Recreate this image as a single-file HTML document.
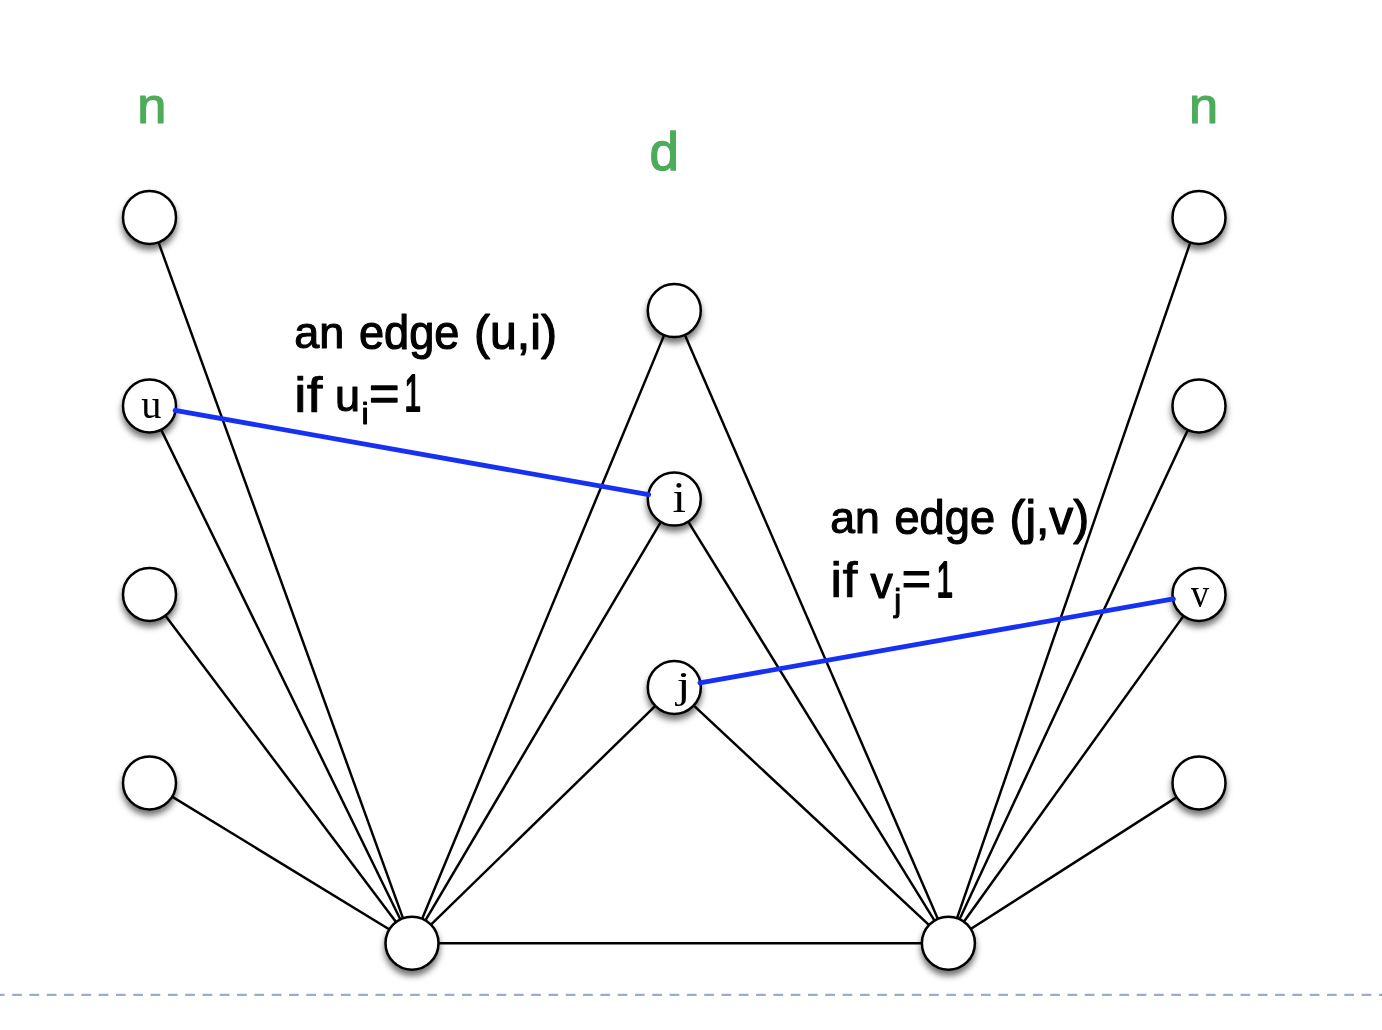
<!DOCTYPE html>
<html><head><meta charset="utf-8"><title>graph</title>
<style>
html,body{margin:0;padding:0;background:#fff;}
body{width:1382px;height:1030px;overflow:hidden;}
svg{display:block;}
.g{font-family:"Liberation Sans",sans-serif;font-size:54px;fill:#4dac5a;stroke:#4dac5a;stroke-width:1.3px;stroke-linejoin:round;}
.t{font-family:"Liberation Sans",sans-serif;font-size:48px;fill:#000;stroke:#000;stroke-width:1.2px;stroke-linejoin:round;}
.s{font-family:"Liberation Sans",sans-serif;font-size:30px;fill:#000;stroke:#000;stroke-width:1px;stroke-linejoin:round;}
.n{font-family:"Liberation Serif",serif;font-size:42px;fill:#000;}
</style></head><body>
<svg width="1382" height="1030" viewBox="0 0 1382 1030">
<defs>
<filter id="sh" filterUnits="userSpaceOnUse" x="0" y="0" width="1382" height="1030">
<feGaussianBlur in="SourceAlpha" stdDeviation="3.4"/>
<feOffset dx="0" dy="5" result="b"/>
<feFlood flood-color="#000" flood-opacity="0.55"/>
<feComposite in2="b" operator="in"/>
</filter>
</defs>
<rect width="1382" height="1030" fill="#fff"/>
<line x1="-5.1" y1="994.9" x2="1382" y2="994.9" stroke="#9aadca" stroke-width="2.2" stroke-dasharray="9.7 7.6"/>

<g stroke="#000" stroke-width="2.45" fill="none">
<line x1="149.5" y1="217.4" x2="412.0" y2="943.2"/>
<line x1="149.5" y1="405.9" x2="412.0" y2="943.2"/>
<line x1="149.5" y1="594.4" x2="412.0" y2="943.2"/>
<line x1="149.5" y1="782.9" x2="412.0" y2="943.2"/>
<line x1="674.3" y1="310.6" x2="412.0" y2="943.2"/>
<line x1="674.3" y1="499.1" x2="412.0" y2="943.2"/>
<line x1="674.3" y1="687.4" x2="412.0" y2="943.2"/>
<line x1="674.3" y1="310.6" x2="948.4" y2="943.2"/>
<line x1="674.3" y1="499.1" x2="948.4" y2="943.2"/>
<line x1="674.3" y1="687.4" x2="948.4" y2="943.2"/>
<line x1="1199.0" y1="217.4" x2="948.4" y2="943.2"/>
<line x1="1199.0" y1="405.9" x2="948.4" y2="943.2"/>
<line x1="1199.0" y1="594.4" x2="948.4" y2="943.2"/>
<line x1="1199.0" y1="782.9" x2="948.4" y2="943.2"/>
<line x1="412.0" y1="943.2" x2="948.4" y2="943.2"/>
</g>
<g fill="#000" filter="url(#sh)">
<circle cx="149.5" cy="217.4" r="27.8"/>
<circle cx="149.5" cy="405.9" r="27.8"/>
<circle cx="149.5" cy="594.4" r="27.8"/>
<circle cx="149.5" cy="782.9" r="27.8"/>
<circle cx="674.3" cy="310.6" r="27.8"/>
<circle cx="674.3" cy="499.1" r="27.8"/>
<circle cx="674.3" cy="687.4" r="27.8"/>
<circle cx="1199.0" cy="217.4" r="27.8"/>
<circle cx="1199.0" cy="405.9" r="27.8"/>
<circle cx="1199.0" cy="594.4" r="27.8"/>
<circle cx="1199.0" cy="782.9" r="27.8"/>
<circle cx="412.0" cy="943.2" r="27.8"/>
<circle cx="948.4" cy="943.2" r="27.8"/>
</g>
<g fill="#fff" stroke="#000" stroke-width="2.5">
<circle cx="149.5" cy="217.4" r="26.5"/>
<circle cx="149.5" cy="405.9" r="26.5"/>
<circle cx="149.5" cy="594.4" r="26.5"/>
<circle cx="149.5" cy="782.9" r="26.5"/>
<circle cx="674.3" cy="310.6" r="26.5"/>
<circle cx="674.3" cy="499.1" r="26.5"/>
<circle cx="674.3" cy="687.4" r="26.5"/>
<circle cx="1199.0" cy="217.4" r="26.5"/>
<circle cx="1199.0" cy="405.9" r="26.5"/>
<circle cx="1199.0" cy="594.4" r="26.5"/>
<circle cx="1199.0" cy="782.9" r="26.5"/>
<circle cx="412.0" cy="943.2" r="26.5"/>
<circle cx="948.4" cy="943.2" r="26.5"/>
</g>
<g stroke="#1631f4" stroke-width="4.8" stroke-linecap="round">
<line x1="175.1" y1="410.4" x2="648.7" y2="494.6"/>
<line x1="699.9" y1="682.9" x2="1173.4" y2="598.9"/>
</g>
<g opacity="0.999">
<text class="g" transform="translate(137.19,122.63) scale(0.9699,0.9119)">n</text>
<text class="g" transform="translate(649.41,169.87) scale(0.9795,1.0031)">d</text>
<text class="g" transform="translate(1189.09,122.63) scale(0.9699,0.9119)">n</text>
<text class="n" transform="translate(141.22,417.93) scale(0.9620,0.9936)">u</text>
<text class="n" transform="translate(672.54,511.60) scale(1.1500,1.0306)">i</text>
<text class="n" transform="translate(676.50,697.76) scale(1.2000,0.9283)">j</text>
<text class="n" transform="translate(1190.80,607.33) scale(0.8762,0.9783)">v</text>
<text class="t" transform="translate(294.29,348.19) scale(0.9377,0.9096)">an</text>
<text class="t" transform="translate(358.99,348.50) scale(0.9407,1.0000)">edge</text>
<text class="t" transform="translate(474.02,348.50) scale(1.0042,1.0000)">(u,i)</text>
<text class="t" style="stroke-width:0.7px" transform="translate(294.09,411.61) scale(1.1860,1.0423)">if</text>
<text class="t" transform="translate(335.05,411.08) scale(0.9387,0.9185)">u</text>
<text class="s" transform="translate(361.39,424.01) scale(1.0759,0.9802)">i</text>
<text class="t" transform="translate(368.89,409.69) scale(1.0898,1.0526)">=</text>
<text class="t" style="stroke-width:1.8px" transform="translate(404.49,411.07) scale(0.6222,1.0609)">1</text>
<text class="t" transform="translate(830.31,533.19) scale(0.9276,0.9096)">an</text>
<text class="t" transform="translate(894.49,533.50) scale(0.9417,1.0000)">edge</text>
<text class="t" transform="translate(1009.54,533.50) scale(0.9953,1.0000)">(j,v)</text>
<text class="t" style="stroke-width:0.7px" transform="translate(830.35,597.41) scale(1.1302,1.0338)">if</text>
<text class="t" transform="translate(870.45,597.82) scale(0.9293,0.9352)">v</text>
<text class="s" transform="translate(894.19,610.83) scale(1.0353,1.0621)">j</text>
<text class="t" transform="translate(901.67,595.02) scale(1.0449,1.0165)">=</text>
<text class="t" style="stroke-width:1.8px" transform="translate(936.39,596.88) scale(0.6222,1.0466)">1</text>
</g>
</svg></body></html>
